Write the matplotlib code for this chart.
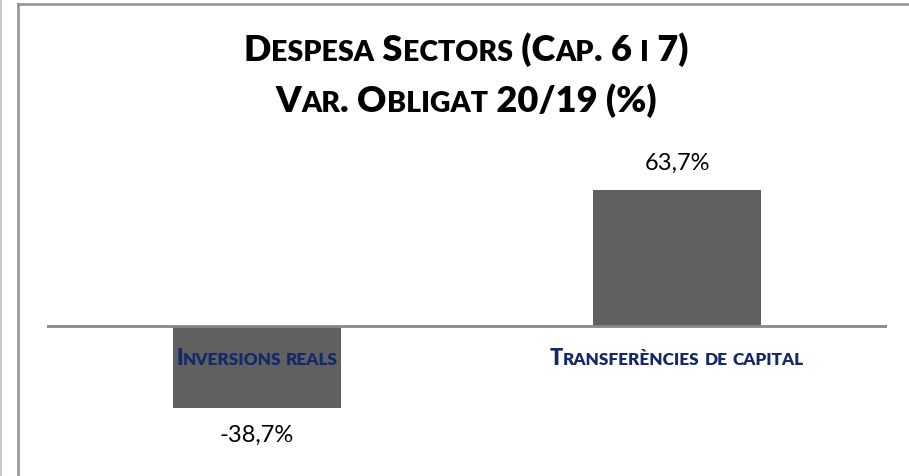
import matplotlib
matplotlib.use("Agg")
import matplotlib.pyplot as plt
from matplotlib.lines import Line2D
from matplotlib.offsetbox import TextArea, HPacker, AnnotationBbox

categories = ["Inversions reals", "Transferències de capital"]
values = [-38.7, 63.7]
value_labels = ["-38,7%", "63,7%"]
title_lines = ["Despesa Sectors (Cap. 6 i 7)", "Var. Obligat 20/19 (%)"]

FONT = "Lato"
BAR_COLOR = "#606060"
CAT_COLOR = "#14286a"


def small_caps(text, big, small, color="black", weight="heavy"):
    # Excel-style small caps: uppercase letters at full size, lowercase as smaller capitals
    parts = []
    cur, cur_up = "", None
    for ch in text:
        up = not ch.islower()
        if cur_up is None or up == cur_up:
            cur += ch
        else:
            parts.append((cur, cur_up))
            cur = ch
        cur_up = up
    parts.append((cur, cur_up))
    boxes = []
    for s, up in parts:
        boxes.append(TextArea(s.upper(), textprops=dict(
            fontsize=big if up else small, fontweight=weight,
            family=FONT, color=color)))
    return HPacker(children=boxes, pad=0, sep=0, align="baseline")


fig = plt.figure(figsize=(9.09, 4.76), dpi=100)
W, H = 909, 476

# axes placed in pixel terms: left 47, right 887, top 150, bottom 440
ax = fig.add_axes([47 / W, 1 - 440 / H, (887 - 47) / W, (440 - 150) / H])
px_per_unit = 2.12
ax.set_ylim(-(440 - 325.5) / px_per_unit, (325.5 - 150) / px_per_unit)
ax.set_xlim(-0.5, len(categories) - 0.5)

x = list(range(len(categories)))
ax.bar(x, values, width=0.4, color=BAR_COLOR, zorder=2)
ax.axhline(0, color="#888888", lw=2, zorder=3)

for xi, v, lab in zip(x, values, value_labels):
    off = 27 if v > 0 else -28
    ax.annotate(lab, (xi, v), xytext=(0, off), textcoords="offset pixels",
                ha="center", va="center", fontsize=17, family=FONT)

for xi, cat in zip(x, categories):
    box = small_caps(cat, 15.5, 12.3, CAT_COLOR)
    ab = AnnotationBbox(box, (xi, 0), xybox=(0, -33), boxcoords="offset pixels",
                        frameon=False, box_alignment=(0.5, 0.5), zorder=4)
    ax.add_artist(ab)

ax.axis("off")

# two-line title
for i, line in enumerate(title_lines):
    box = small_caps(line, 26, 20.5)
    ab = AnnotationBbox(box, (466 / W, 1 - (50 + i * 51) / H), xycoords="figure fraction",
                        frameon=False, box_alignment=(0.5, 0.5))
    fig.add_artist(ab)

# chart frame lines
fig.add_artist(Line2D([1 / W, 1 / W], [0, 1], color="#c8c8c8", lw=1.5))
fig.add_artist(Line2D([18 / W, 18 / W], [0, 1 - 3.5 / H], color="#999999", lw=2))
fig.add_artist(Line2D([18 / W, 1], [1 - 3.5 / H, 1 - 3.5 / H], color="#999999", lw=2))

fig.savefig("out.png", dpi=100)
